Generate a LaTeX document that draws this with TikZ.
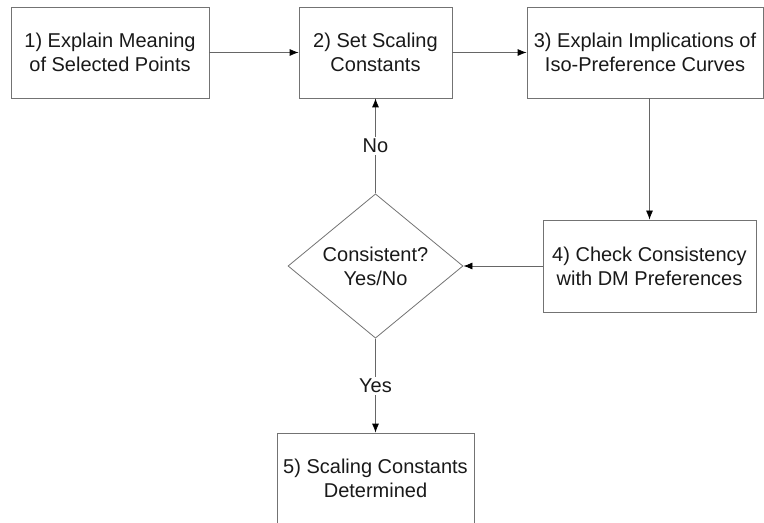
\documentclass[tikz,border=0pt]{standalone}
\usepackage{fontspec}
\setmainfont{Liberation Sans}
\usetikzlibrary{shapes.geometric,arrows.meta}

\begin{document}
\begin{tikzpicture}[x=1bp,y=-1bp,-{Latex[length=9bp,width=7bp,color=black]},line width=0.8bp,draw=black!60,
                every node/.style={font=\fontsize{20bp}{24bp}\selectfont,text=black!90,align=center},
                step box/.style={rectangle,draw=black!55,inner sep=0pt,minimum height=91bp},
                test box/.style={diamond,draw=black!55,inner sep=0pt,minimum width=175bp,minimum height=136bp}]

            \useasboundingbox (0,0) rectangle (764,523);

            \node[step box, minimum width=198bp] (S1) at (110,52.5) {1) Explain Meaning\\of Selected Points};
            \node[step box, minimum width=153bp] (S2) at (375.5,52.5) {2) Set Scaling\\Constants};
            \node[step box, minimum width=236bp] (S3) at (645,52.5) {3) Explain Implications of\\Iso-Preference Curves};
            \node[step box, minimum width=213bp, minimum height=92bp] (S4) at (649.5,266) {4) Check Consistency\\with DM Preferences};
            \node[test box] (T) at (375.5,266) {Consistent?\\Yes/No};
            \node[step box, minimum width=197bp] (S5) at (375.5,478.5) {5) Scaling Constants\\Determined};

            \path[every node/.append style={fill=white,inner sep=2bp}]
            (S1) edge (S2)
            (S2) edge (S3)
            (S3.south -| S4.north) edge (S4.north)
            (S4) edge (T)
            (T) edge node[pos=0.5] {No} (S2)
            (T) edge node[pos=0.5] {Yes} (S5);

        \end{tikzpicture}
\end{document}
